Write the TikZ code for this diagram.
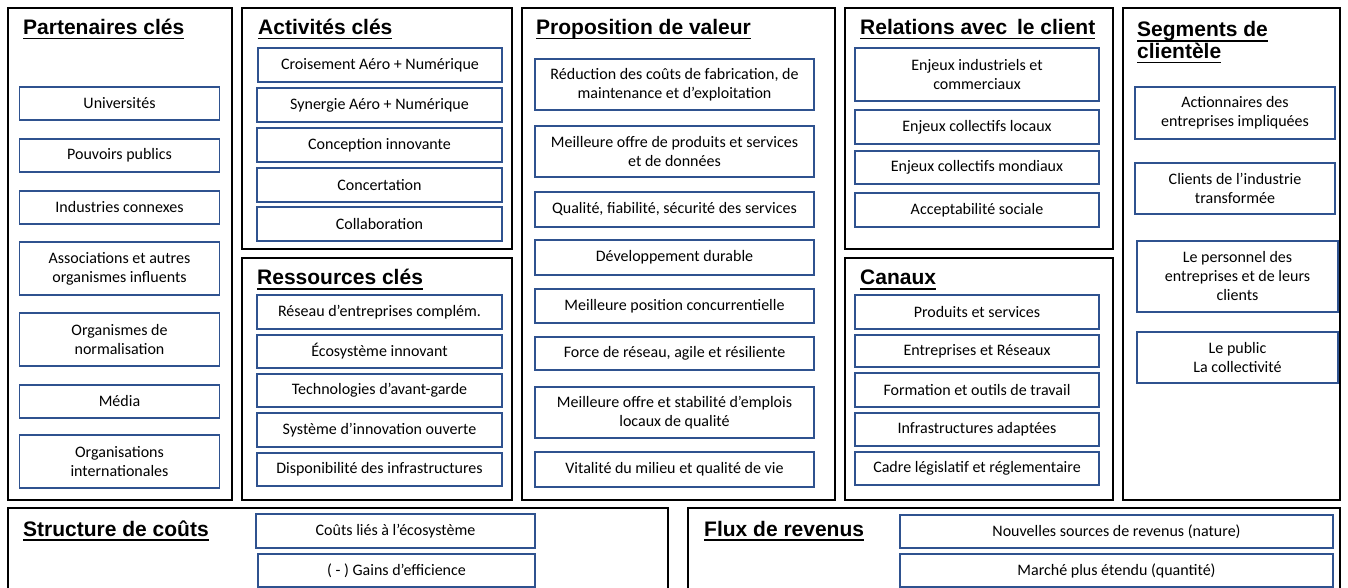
\documentclass[tikz,border=0pt]{standalone}
\usepackage{fontspec}
\setmainfont{Carlito}
\newfontfamily\ttlfont{Liberation Sans}
\definecolor{boxblue}{RGB}{47,82,143}
\newsavebox\ulbox
\newcommand\myul[1]{\sbox\ulbox{#1}\rlap{\rule[-5pt]{\wd\ulbox}{1.8pt}}\usebox\ulbox}
\tikzset{
  panel/.style={draw=black, line width=2pt, inner sep=0pt},
  bx/.style={draw=boxblue, line width=1.3pt, fill=white, align=center, inner sep=0pt,
    font=\fontsize{16}{19}\selectfont},
  ttl/.style={anchor=base west, inner sep=0pt, font=\ttlfont\bfseries\fontsize{21}{24}\selectfont},
}
\newcommand\mypanel[5]{\node[panel, minimum width={#4-#2}, minimum height={#5-#3}] (#1) at ({(#2+#4)/2},{(#3+#5)/2}) {};}
\newcommand\mybox[6]{\node[bx, minimum width={#4-#2}, minimum height={#5-#3}] (#1) at ({(#2+#4)/2},{(#3+#5)/2}) {#6};}
\begin{document}
\begin{tikzpicture}[x=1pt,y=-1pt]
\useasboundingbox (0,0) rectangle (1348,588);
% panels
\mypanel{pPart}{8}{8}{232}{500}
\mypanel{pAct}{242}{8}{512}{249}
\mypanel{pRes}{242}{258}{512}{500}
\mypanel{pProp}{522}{8}{835}{500}
\mypanel{pRel}{845}{8}{1113}{249}
\mypanel{pCan}{845}{258}{1113}{500}
\mypanel{pSeg}{1123}{8}{1340}{500}
\mypanel{pCout}{8}{508}{668}{596}
\mypanel{pFlux}{688}{508}{1340}{596}
% titles
\node[ttl] (tPart) at (23,34.5) {\myul{Partenaires clés}};
\node[ttl] (tAct) at (258,34.5) {\myul{Activités clés}};
\node[ttl] (tRes) at (257,284.5) {\myul{Ressources clés}};
\node[ttl] (tProp) at (536,34.5) {\myul{Proposition de valeur}};
\node[ttl] (tRel) at (860,34.5) {\myul{Relations avec\hspace{4pt} le client}};
\node[ttl] (tCan) at (860,284.5) {\myul{Canaux}};
\node[ttl] (tSeg1) at (1137,37) {\myul{Segments de}};
\node[ttl] (tSeg2) at (1137,58.5) {\myul{clientèle}};
\node[ttl] (tCout) at (23,536) {\myul{Structure de coûts}};
\node[ttl] (tFlux) at (704,536) {\myul{Flux de revenus}};
% Partenaires
\mybox{a1}{19.5}{87}{219.5}{120}{Universités}
\mybox{a2}{19.5}{139}{219.5}{172}{Pouvoirs publics}
\mybox{a3}{19.5}{191}{219.5}{224}{Industries connexes}
\mybox{a4}{19.5}{242}{219.5}{295}{Associations et autres\\organismes influents}
\mybox{a5}{19.5}{313}{219.5}{366}{Organismes de\\normalisation}
\mybox{a6}{19.5}{385}{219.5}{418}{Média}
\mybox{a7}{19.5}{435}{219.5}{488}{Organisations\\internationales}
% Activites
\mybox{b1}{258}{48}{502}{82}{Croisement Aéro + Numérique}
\mybox{b2}{257}{88}{502}{122}{Synergie Aéro + Numérique}
\mybox{b3}{257}{128}{502}{162}{Conception innovante}
\mybox{b4}{257}{168}{502}{202}{Concertation}
\mybox{b5}{257}{207}{502}{241}{Collaboration}
% Ressources
\mybox{c1}{257}{295}{502}{329}{Réseau d’entreprises complém.}
\mybox{c2}{257}{335}{502}{368}{Écosystème innovant}
\mybox{c3}{257}{374}{502}{407}{Technologies d’avant-garde}
\mybox{c4}{257}{413}{502}{447}{Système d’innovation ouverte}
\mybox{c5}{257}{453}{502}{486}{Disponibilité des infrastructures}
% Proposition
\mybox{d1}{535}{59}{814}{110}{Réduction des coûts de fabrication, de\\maintenance et d’exploitation}
\mybox{d2}{535}{126}{814}{177}{Meilleure offre de produits et services\\et de données}
\mybox{d3}{535}{192}{814}{227}{Qualité, fiabilité, sécurité des services}
\mybox{d4}{535}{240}{814}{275}{Développement durable}
\mybox{d5}{535}{289}{814}{323}{Meilleure position concurrentielle}
\mybox{d6}{535}{337}{814}{370}{Force de réseau, agile et résiliente}
\mybox{d7}{535}{387}{814}{438}{Meilleure offre et stabilité d’emplois\\locaux de qualité}
\mybox{d8}{535}{452}{814}{487}{Vitalité du milieu et qualité de vie}
% Relations
\mybox{e1}{855}{48}{1099}{101}{Enjeux industriels et\\commerciaux}
\mybox{e2}{855}{110}{1099}{144}{Enjeux collectifs locaux}
\mybox{e3}{855}{151}{1099}{184}{Enjeux collectifs mondiaux}
\mybox{e4}{855}{193}{1099}{227}{Acceptabilité sociale}
% Canaux
\mybox{f1}{855}{295}{1099}{329}{Produits et services}
\mybox{f2}{855}{335}{1099}{367}{Entreprises et Réseaux}
\mybox{f3}{855}{373}{1099}{407}{Formation et outils de travail}
\mybox{f4}{855}{413}{1099}{446}{Infrastructures adaptées}
\mybox{f5}{855}{452}{1099}{485}{Cadre législatif et réglementaire}
% Segments
\mybox{g1}{1135}{87}{1335}{139}{Actionnaires des\\entreprises impliquées}
\mybox{g2}{1135}{163}{1335}{214}{Clients de l’industrie\\transformée}
\mybox{g3}{1137}{241}{1338}{312}{Le personnel des\\entreprises et de leurs\\clients}
\mybox{g4}{1137}{332}{1338}{383}{Le public\\La collectivité}
% Structure de couts
\mybox{h1}{256}{514}{535}{548}{Coûts liés à l’écosystème}
\mybox{h2}{258}{554}{535}{587}{( - ) Gains d’efficience}
% Flux de revenus
\mybox{i1}{900}{515}{1333}{548}{Nouvelles sources de revenus (nature)}
\mybox{i2}{900}{554}{1333}{587}{Marché plus étendu (quantité)}
\end{tikzpicture}
\end{document}
